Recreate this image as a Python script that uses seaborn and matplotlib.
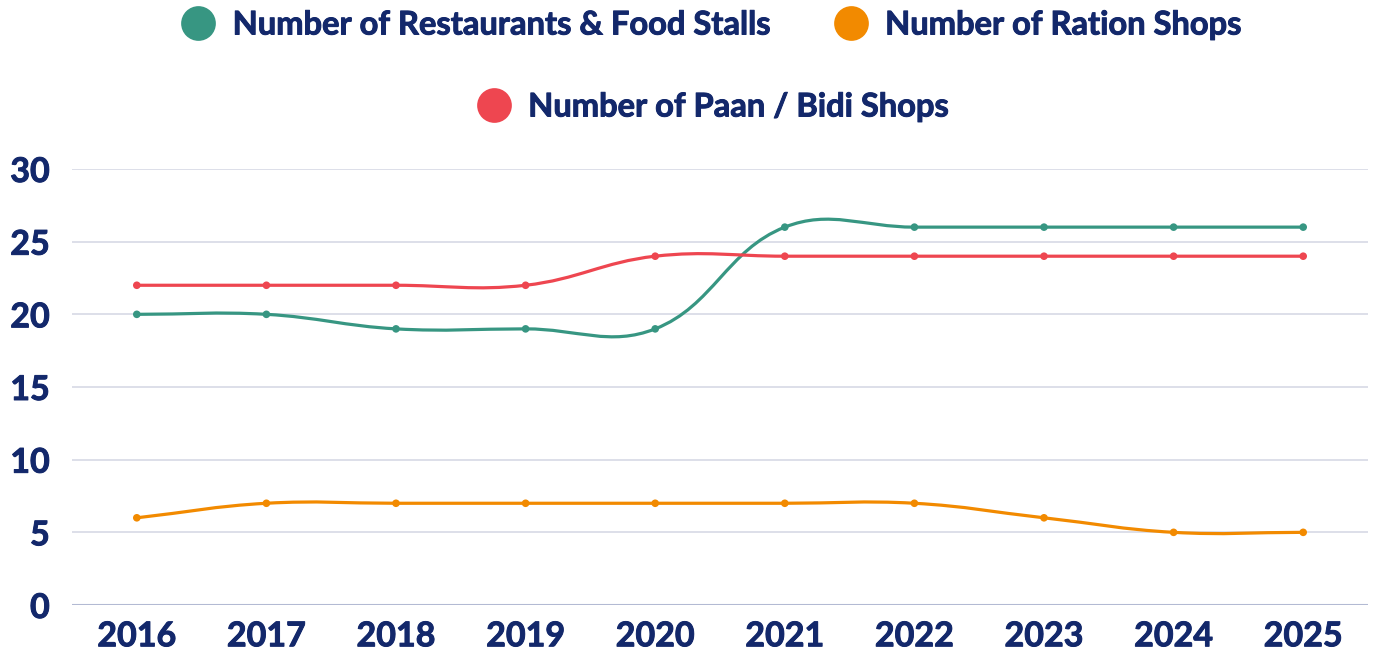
import numpy as np
import pandas as pd
import matplotlib
matplotlib.use("Agg")
import matplotlib.pyplot as plt
import matplotlib.patheffects as pe
from matplotlib.path import Path
from matplotlib.patches import PathPatch
from matplotlib.lines import Line2D
import seaborn as sns

# datos
years = ["2016", "2017", "2018", "2019", "2020", "2021", "2022", "2023", "2024", "2025"]
restaurants = [20, 20, 19, 19, 19, 26, 26, 26, 26, 26]
ration = [6, 7, 7, 7, 7, 7, 7, 6, 5, 5]
paan = [22, 22, 22, 22, 24, 24, 24, 24, 24, 24]

series_names = ["Number of Restaurants & Food Stalls", "Number of Ration Shops", "Number of Paan / Bidi Shops"]
colors = ["#379682", "#f28a00", "#ee4650"]
navy = "#13286b"

df = pd.DataFrame({"Year": years * 3,
                   "Value": restaurants + ration + paan,
                   "Serie": [series_names[0]] * 10 + [series_names[1]] * 10 + [series_names[2]] * 10})

sns.set_theme(style="white")
plt.rcParams["font.family"] = ["Lato", "DejaVu Sans"]
# trazo fino para engrosar un poco el texto
grueso = [pe.withStroke(linewidth=0.7, foreground=navy)]

fig = plt.figure(figsize=(13.76, 6.55), dpi=100)
ax = fig.add_axes([72 / 1376, 1 - 605 / 655, (1368 - 72) / 1376, (605 - 169) / 655])
ax.set_xlim(-0.5, 9.5)
ax.set_ylim(0, 30)


def spline_path(ax, xs, ys, tension=0.4):
    # curva suave estilo cardinal (calculada en pixeles)
    pts = ax.transData.transform(np.column_stack([xs, ys]))
    n = len(pts)
    cp_prev = np.zeros_like(pts)
    cp_next = np.zeros_like(pts)
    for i in range(n):
        prev = pts[i - 1] if i > 0 else pts[i]
        nxt = pts[i + 1] if i < n - 1 else pts[i]
        d01 = np.hypot(*(pts[i] - prev))
        d12 = np.hypot(*(nxt - pts[i]))
        tot = d01 + d12
        s01 = d01 / tot if tot else 0
        s12 = d12 / tot if tot else 0
        cp_prev[i] = pts[i] - tension * s01 * (nxt - prev)
        cp_next[i] = pts[i] + tension * s12 * (nxt - prev)
    verts = [pts[0]]
    codes = [Path.MOVETO]
    for i in range(n - 1):
        verts += [cp_next[i], cp_prev[i + 1], pts[i + 1]]
        codes += [Path.CURVE4] * 3
    inv = ax.transData.inverted()
    return Path(inv.transform(np.array(verts)), codes)


# rejilla
for v in range(5, 31, 5):
    ax.axhline(v, color="#d3d6e3", lw=1.1, zorder=0)
ax.axhline(0, color="#b3bad3", lw=1.5, zorder=0)

x_idx = np.arange(len(years))
for name, vals, col in zip(series_names, [restaurants, ration, paan], colors):
    path = spline_path(ax, x_idx, vals)
    ax.add_patch(PathPatch(path, facecolor="none", edgecolor=col, lw=2.3, zorder=2))

sns.scatterplot(data=df, x="Year", y="Value", hue="Serie", palette=colors,
                s=30, edgecolor="none", legend=False, ax=ax, zorder=3)
ax.set_xlim(-0.5, 9.5)
ax.set_ylim(0, 30)

ax.set_yticks(range(0, 31, 5))
ax.set_xlabel("")
ax.set_ylabel("")
for s in ax.spines.values():
    s.set_visible(False)
ax.tick_params(axis="both", length=0, labelcolor=navy, labelsize=24.5)
ax.tick_params(axis="y", pad=16)
ax.tick_params(axis="x", pad=11)
for lbl in ax.get_xticklabels() + ax.get_yticklabels():
    lbl.set_fontweight("bold")
    lbl.set_path_effects(grueso)

# leyendas
def handle(col):
    return Line2D([], [], marker="o", ls="none", markersize=25, markerfacecolor=col, markeredgecolor="none")

leg1 = fig.legend([handle(colors[0]), handle(colors[1])], series_names[:2], loc="center",
                  bbox_to_anchor=(0.516, 1 - 25 / 655), ncol=2, frameon=False,
                  prop={"weight": "bold", "size": 23.5}, labelcolor=navy,
                  handletextpad=0.45, columnspacing=1.9, handlelength=1.2)
leg2 = fig.legend([handle(colors[2])], series_names[2:], loc="center",
                  bbox_to_anchor=(0.517, 1 - 107 / 655), frameon=False,
                  prop={"weight": "bold", "size": 23.5}, labelcolor=navy,
                  handletextpad=0.45, handlelength=1.2)
for leg in (leg1, leg2):
    for t in leg.get_texts():
        t.set_path_effects(grueso)

fig.savefig("out.png", dpi=100)
